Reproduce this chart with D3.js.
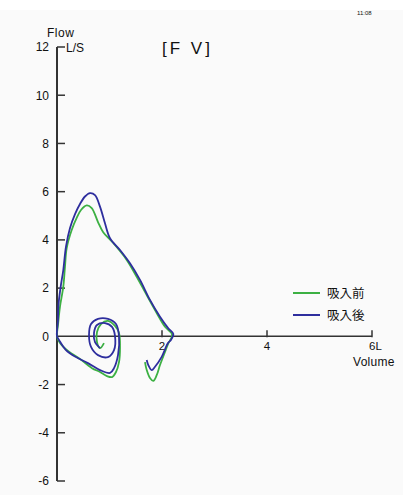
<!DOCTYPE html>
<html>
<head>
<meta charset="utf-8">
<script src="https://cdn.jsdelivr.net/npm/d3@7"></script>
<style>
  html, body { margin: 0; padding: 0; background: #ffffff; }
  svg { display: block; }
  text { font-family: "Liberation Sans", "DejaVu Sans", sans-serif; fill: #111; }
  .cjk { font-family: "Noto Sans CJK JP", "Noto Sans CJK SC", sans-serif; }
</style>
</head>
<body>
<svg id="chart" width="403" height="495"></svg>
<script>
// Flow–volume loops (volume in L, flow in L/s), before and after inhalation
const seriesNames = ["吸入前", "吸入後"];
const seriesColors = ["#3cb043", "#2e2e9e"];

// 吸入前: tidal spiral -> maximal inspiration -> forced expiration -> inspiratory tail
const beforeVolume = [0.895, 0.819, 0.762, 0.762, 0.838, 0.971, 1.105, 1.181, 1.200, 1.181, 1.124, 1.048, 0.952, 0.819, 0.667, 0.438, 0.210, 0.057, 0.0,
  0.019, 0.057, 0.120, 0.152, 0.185, 0.280, 0.375, 0.457, 0.566, 0.661, 0.781, 0.880, 1.067, 1.328, 1.518, 1.709, 1.899, 2.057, 2.185,
  2.19, 2.114, 2.057, 1.962, 1.899, 1.834, 1.771, 1.709, 1.676];
const beforeFlow = [-0.28, -0.49, -0.24, 0.18, 0.51, 0.64, 0.43, 0.14, -0.49, -1.07, -1.48, -1.69, -1.65, -1.48, -1.32, -0.94, -0.61, -0.28, 0.0,
  0.47, 1.23, 2.06, 2.89, 3.66, 4.41, 4.91, 5.24, 5.43, 5.32, 4.74, 4.32, 3.88, 3.17, 2.47, 1.71, 0.97, 0.40, 0.12,
  0.0, -0.32, -0.65, -1.19, -1.61, -1.85, -1.73, -1.40, -1.07];

// 吸入後
const afterVolume = [0.819, 0.724, 0.705, 0.762, 0.914, 1.048, 1.105, 1.086, 0.971, 0.781, 0.648, 0.610, 0.648, 0.781, 0.971, 1.124, 1.181, 1.162, 1.086, 1.010, 0.819, 0.590, 0.362, 0.171, 0.038, 0.0,
  0.019, 0.025, 0.070, 0.120, 0.171, 0.248, 0.343, 0.438, 0.533, 0.629, 0.724, 0.819, 0.914, 1.010, 1.200, 1.390, 1.581, 1.771, 1.962, 2.120, 2.215,
  2.171, 2.114, 1.994, 1.867, 1.804, 1.739, 1.709];
const afterFlow = [-0.49, -0.24, 0.14, 0.47, 0.55, 0.39, 0.01, -0.57, -0.86, -0.78, -0.44, 0.05, 0.51, 0.72, 0.72, 0.51, 0.01, -0.78, -1.32, -1.52, -1.40, -1.11, -0.86, -0.57, -0.15, 0.0,
  0.68, 1.23, 2.06, 2.75, 3.72, 4.49, 5.07, 5.49, 5.80, 5.94, 5.86, 5.38, 4.69, 4.07, 3.58, 3.03, 2.34, 1.51, 0.81, 0.33, 0.10,
  -0.15, -0.28, -0.85, -1.26, -1.40, -1.19, -0.98];

const yTicks = [12, 10, 8, 6, 4, 2, 0, -2, -4, -6];
const yTickLabels = ["12", "10", "8", "6", "4", "2", "0", "-2", "-4", "-6"];
const xTicks = [2, 4, 6];
const xTickLabels = ["2", "4", "6L"];

const svg = d3.select("#chart");

// light paper background
svg.append("rect").attr("x", 0).attr("y", 10).attr("width", 403).attr("height", 485).attr("fill", "#fafafa");

const x = d3.scaleLinear().domain([0, 6]).range([57, 372]);
const y = d3.scaleLinear().domain([-6, 12]).range([481, 47]);

// y axis: line with short ticks pointing right
const axisColor = "#333";
svg.append("line")
  .attr("x1", x(0)).attr("x2", x(0))
  .attr("y1", y(12)).attr("y2", y(-6))
  .attr("stroke", axisColor).attr("stroke-width", 2);

svg.selectAll(".ytick").data(yTicks.filter(d => d !== 0)).enter().append("line")
  .attr("x1", x(0)).attr("x2", x(0) + 8)
  .attr("y1", d => y(d)).attr("y2", d => y(d))
  .attr("stroke", axisColor).attr("stroke-width", 1.5);

svg.selectAll(".ylab").data(yTicks).enter().append("text")
  .attr("x", 49).attr("y", d => y(d))
  .attr("dy", "0.36em")
  .attr("text-anchor", "end")
  .attr("font-size", 12)
  .text((d, i) => yTickLabels[i]);

// x axis
svg.append("line")
  .attr("x1", x(0)).attr("x2", x(6))
  .attr("y1", y(0)).attr("y2", y(0))
  .attr("stroke", axisColor).attr("stroke-width", 1.5);

svg.selectAll(".xtick").data(xTicks).enter().append("line")
  .attr("x1", d => x(d)).attr("x2", d => x(d))
  .attr("y1", y(0) - 6).attr("y2", y(0) + 1)
  .attr("stroke", axisColor).attr("stroke-width", 1.5);

svg.selectAll(".xlab").data(xTicks).enter().append("text")
  .attr("x", d => x(d) + (d === 6 ? -3 : 0))
  .attr("y", y(0) + 14)
  .attr("text-anchor", d => d === 6 ? "start" : "middle")
  .attr("font-size", 11.5)
  .text((d, i) => xTickLabels[i]);

// axis titles and header
svg.append("text").attr("x", 47).attr("y", 37).attr("font-size", 12).attr("letter-spacing", 0.5).text("Flow");
svg.append("text").attr("x", 66).attr("y", 52).attr("font-size", 12).text("L/S");
svg.append("text").attr("x", 353).attr("y", 366).attr("font-size", 12).attr("letter-spacing", 0.3).text("Volume");
svg.append("text").attr("x", 162).attr("y", 54).attr("font-size", 17).attr("letter-spacing", 3).text("[F V]");
svg.append("text").attr("x", 357).attr("y", 15).attr("font-size", 6).attr("fill", "#444").text("11:08");

// loops
const line = d3.line()
  .x(d => x(d[0]))
  .y(d => y(d[1]))
  .curve(d3.curveCatmullRom.alpha(0.5));

const series = [
  d3.zip(beforeVolume, beforeFlow),
  d3.zip(afterVolume, afterFlow)
];

svg.selectAll(".loop").data(series).enter().append("path")
  .attr("d", line)
  .attr("fill", "none")
  .attr("stroke", (d, i) => seriesColors[i])
  .attr("stroke-width", 1.8)
  .attr("stroke-linejoin", "round");

// legend
const legend = svg.selectAll(".legend").data(seriesNames).enter().append("g")
  .attr("transform", (d, i) => `translate(293, ${293 + i * 22})`);
legend.append("line")
  .attr("x1", 0).attr("x2", 27).attr("y1", 0).attr("y2", 0)
  .attr("stroke", (d, i) => seriesColors[i]).attr("stroke-width", 2);
legend.append("text")
  .attr("class", "cjk")
  .attr("x", 34).attr("y", 0).attr("dy", "0.38em")
  .attr("font-size", 12.5)
  .text(d => d);
</script>
</body>
</html>
